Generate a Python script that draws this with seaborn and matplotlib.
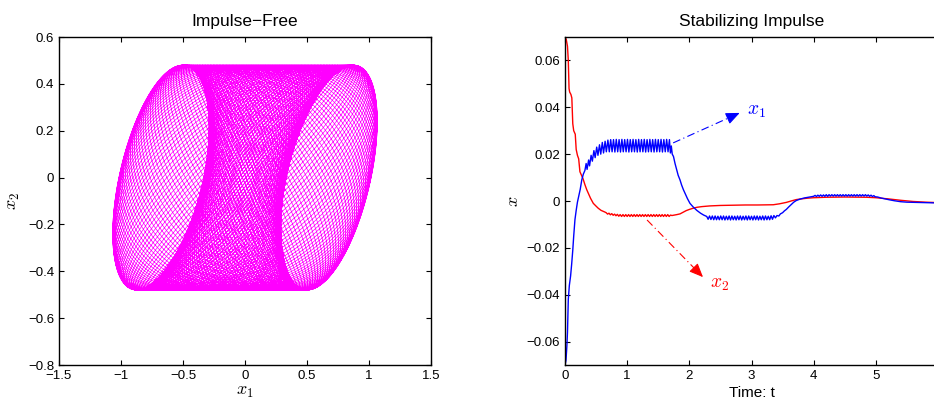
import numpy as np
import matplotlib
matplotlib.use("Agg")
import matplotlib.pyplot as plt
import seaborn as sns
from matplotlib.ticker import FixedLocator, FuncFormatter

# ---------------- left panel: quasi-periodic orbit (mode amplitudes)
orbit_loops = [120]                     # fast loops of the orbit
orbit_x1_modes = [0.33, 0.675, 0.07]    # x1 amplitudes of the three beating modes
orbit_x1_lag = [0.60]                   # phase lag of the first x1 mode
orbit_x2_amp = [0.48]                   # x2 amplitude

# ---------------- right panel: time responses under stabilizing impulses
x1_time = [0.000, 0.016, 0.030, 0.040, 0.053, 0.070, 0.090, 0.107, 0.125, 0.140, 0.160, 0.180,
           0.200, 0.220, 0.245, 0.270, 0.295, 0.320,
           0.340, 0.355, 0.380, 0.395, 0.420, 0.440, 0.465, 0.485, 0.510, 0.530, 0.555, 0.575,
           0.600, 0.620, 0.645, 0.665,
           0.690, 0.7125, 0.735, 0.7575, 0.780, 0.8025, 0.825, 0.8475, 0.870, 0.8925, 0.915, 0.9375,
           0.960, 0.9825, 1.005, 1.0275, 1.050, 1.0725, 1.095, 1.1175, 1.140, 1.1625, 1.185, 1.2075,
           1.230, 1.2525, 1.275, 1.2975, 1.320, 1.3425, 1.365, 1.3875, 1.410, 1.4325, 1.455, 1.4775,
           1.500, 1.5225, 1.545, 1.5675, 1.590, 1.6125, 1.635, 1.6575, 1.680,
           1.695, 1.710, 1.725, 1.745, 1.770, 1.790, 1.820, 1.850, 1.876, 1.905, 1.930, 1.970, 2.010,
           2.060, 2.120, 2.180, 2.230, 2.280,
           2.3025, 2.325, 2.3475, 2.370, 2.3925, 2.415, 2.4375, 2.460, 2.4825, 2.505, 2.5275, 2.550,
           2.5725, 2.595, 2.6175, 2.640, 2.6625, 2.685, 2.7075, 2.730, 2.7525, 2.775, 2.7975, 2.820,
           2.8425, 2.865, 2.8875, 2.910, 2.9325, 2.955, 2.9775, 3.000, 3.0225, 3.045, 3.0675, 3.090,
           3.1125, 3.135, 3.1575, 3.180, 3.2025, 3.225, 3.2475, 3.270, 3.2925, 3.315, 3.3375, 3.360,
           3.385, 3.410, 3.440, 3.465, 3.500, 3.530, 3.560, 3.600, 3.640, 3.680, 3.720, 3.780, 3.850,
           3.940, 4.000,
           4.0225, 4.045, 4.0675, 4.090, 4.1125, 4.135, 4.1575, 4.180, 4.2025, 4.225, 4.2475, 4.270,
           4.2925, 4.315, 4.3375, 4.360, 4.3825, 4.405, 4.4275, 4.450, 4.4725, 4.495, 4.5175, 4.540,
           4.5625, 4.585, 4.6075, 4.630, 4.6525, 4.675, 4.6975, 4.720, 4.7425, 4.765, 4.7875, 4.810,
           4.8325, 4.855, 4.8775, 4.900, 4.9225, 4.945, 4.9675, 4.990,
           5.030, 5.080, 5.150, 5.220, 5.300, 5.400, 5.500, 5.650, 5.800, 5.950, 6.000]
x1_value = [-0.0700, -0.0680, -0.0620, -0.0560, -0.0420, -0.0360, -0.0320, -0.0270, -0.0210,
            -0.0150, -0.0080, -0.0040, -0.0005, 0.0020, 0.0050, 0.0090, 0.0115, 0.0130,
            0.0160, 0.0135, 0.0175, 0.0150, 0.0195, 0.0170, 0.0215, 0.0185, 0.0230, 0.0195, 0.0240,
            0.0200, 0.0250, 0.0205, 0.0255, 0.0210,
            0.0260, 0.0210, 0.0262, 0.0210, 0.0262, 0.0209, 0.0263, 0.0210, 0.0262, 0.0209, 0.0263,
            0.0210, 0.0262, 0.0210, 0.0263, 0.0209, 0.0262, 0.0210, 0.0263, 0.0210, 0.0262, 0.0209,
            0.0263, 0.0210, 0.0262, 0.0210, 0.0263, 0.0209, 0.0262, 0.0210, 0.0263, 0.0210, 0.0262,
            0.0209, 0.0263, 0.0210, 0.0262, 0.0210, 0.0263, 0.0209, 0.0262, 0.0210, 0.0263, 0.0210,
            0.0262,
            0.0205, 0.0235, 0.0200, 0.0190, 0.0160, 0.0140, 0.0110, 0.0090, 0.0068, 0.0048, 0.0033,
            0.0010, -0.0010, -0.0025, -0.0040, -0.0052, -0.0060, -0.0066,
            -0.0078, -0.0064, -0.0079, -0.0064, -0.0080, -0.0064, -0.0080, -0.0065, -0.0080, -0.0064,
            -0.0080, -0.0064, -0.0081, -0.0065, -0.0080, -0.0064, -0.0081, -0.0064, -0.0080, -0.0065,
            -0.0081, -0.0064, -0.0080, -0.0064, -0.0081, -0.0065, -0.0080, -0.0064, -0.0081, -0.0064,
            -0.0080, -0.0065, -0.0081, -0.0064, -0.0080, -0.0064, -0.0081, -0.0065, -0.0080, -0.0064,
            -0.0081, -0.0064, -0.0080, -0.0065, -0.0080, -0.0063, -0.0078, -0.0062,
            -0.0072, -0.0062, -0.0064, -0.0055, -0.0050, -0.0042, -0.0036, -0.0025, -0.0015, -0.0005,
            0.0002, 0.0008, 0.0013, 0.0017, 0.0020,
            0.0024, 0.0019, 0.0025, 0.0020, 0.0026, 0.0020, 0.0026, 0.0020, 0.0027, 0.0020, 0.0027,
            0.0021, 0.0027, 0.0021, 0.0027, 0.0021, 0.0027, 0.0021, 0.0027, 0.0021, 0.0027, 0.0021,
            0.0027, 0.0021, 0.0027, 0.0021, 0.0027, 0.0021, 0.0027, 0.0021, 0.0027, 0.0021, 0.0027,
            0.0021, 0.0027, 0.0021, 0.0027, 0.0021, 0.0026, 0.0020, 0.0025, 0.0019, 0.0023, 0.0018,
            0.0017, 0.0013, 0.0009, 0.0005, 0.0001, -0.0003, -0.0005, -0.0006, -0.0007, -0.0008,
            -0.0008]

x2_time = [0.000, 0.020, 0.040, 0.053, 0.065, 0.075, 0.095, 0.110, 0.125, 0.140, 0.165, 0.180,
           0.200, 0.220, 0.240, 0.265, 0.290, 0.320, 0.350, 0.375, 0.410, 0.455, 0.500, 0.535,
           0.580, 0.640,
           0.6625, 0.685, 0.7075, 0.730, 0.7525, 0.775, 0.7975, 0.820, 0.8425, 0.865, 0.8875, 0.910,
           0.9325, 0.955, 0.9775, 1.000, 1.0225, 1.045, 1.0675, 1.090, 1.1125, 1.135, 1.1575, 1.180,
           1.2025, 1.225, 1.2475, 1.270, 1.2925, 1.315, 1.3375, 1.360, 1.3825, 1.405, 1.4275, 1.450,
           1.4725, 1.495, 1.5175, 1.540, 1.5625, 1.585, 1.6075, 1.630, 1.6525, 1.675, 1.6975,
           1.720, 1.760, 1.800, 1.850, 1.900, 1.950, 2.000, 2.060, 2.120, 2.200, 2.330, 2.500, 2.700,
           2.900, 3.100, 3.350, 3.450, 3.560, 3.650, 3.720, 3.800, 3.900, 4.000, 4.200, 4.500, 4.850,
           5.000, 5.200, 5.400, 5.600, 5.800, 6.000]
x2_value = [0.0700, 0.0690, 0.0660, 0.0600, 0.0480, 0.0465, 0.0455, 0.0440, 0.0330, 0.0300,
            0.0285, 0.0220, 0.0195, 0.0180, 0.0125, 0.0110, 0.0095, 0.0070, 0.0048, 0.0033,
            0.0012, -0.0010, -0.0022, -0.0031, -0.0040, -0.0047,
            -0.0050, -0.0056, -0.0052, -0.0059, -0.0054, -0.0061, -0.0056, -0.0063, -0.0057, -0.0065,
            -0.0058, -0.0066, -0.0058, -0.0066, -0.0058, -0.0066, -0.0058, -0.0066, -0.0058, -0.0066,
            -0.0058, -0.0066, -0.0058, -0.0066, -0.0058, -0.0066, -0.0058, -0.0066, -0.0058, -0.0066,
            -0.0058, -0.0066, -0.0058, -0.0066, -0.0058, -0.0066, -0.0058, -0.0066, -0.0058, -0.0066,
            -0.0058, -0.0066, -0.0058, -0.0066, -0.0058, -0.0066, -0.0060,
            -0.0062, -0.0060, -0.0058, -0.0055, -0.0048, -0.0041, -0.0036, -0.0031, -0.0027, -0.0024,
            -0.0021, -0.0019, -0.0018, -0.0017, -0.0017, -0.0016, -0.0012, -0.0006, 0.0001, 0.0006,
            0.0009, 0.0012, 0.0014, 0.0016, 0.0017, 0.0016, 0.0014, 0.0009, 0.0003, -0.0002, -0.0005,
            -0.0007]

left_xticks = [-1.5, -1.0, -0.5, 0.0, 0.5, 1.0, 1.5]
left_yticks = [-0.8, -0.6, -0.4, -0.2, 0.0, 0.2, 0.4, 0.6]
right_xticks = [0, 1, 2, 3, 4, 5]
right_yticks = [-0.06, -0.04, -0.02, 0.0, 0.02, 0.04, 0.06]

# ---------------- style
sns.set_theme(style="ticks")
plt.rcParams["font.family"] = ["Liberation Sans", "DejaVu Sans"]
plt.rcParams.update({
    "mathtext.fontset": "cm",
    "xtick.direction": "in", "ytick.direction": "in",
    "xtick.top": True, "ytick.right": True,
    "xtick.major.size": 3.5, "ytick.major.size": 3.5,
    "xtick.major.width": 0.8, "ytick.major.width": 0.8,
    "xtick.color": "black", "ytick.color": "black",
    "xtick.labelsize": 9.5, "ytick.labelsize": 9.5,
    "axes.edgecolor": "black", "axes.linewidth": 1.0,
    "text.color": "black", "axes.labelcolor": "black",
})


def matlab_fmt(v, pos):
    s = "%g" % round(v, 6)
    return s.replace("-", "\u2212")


fig = plt.figure(figsize=(9.34, 4.04), dpi=100)
ax1 = fig.add_axes([59 / 934, 1 - 365 / 404, 372 / 934, 328 / 404])
ax2 = fig.add_axes([565 / 934, 1 - 365 / 404, 373 / 934, 328 / 404])

# ---- left: orbit built from three beating modes
n_loops = orbit_loops[0]
s = np.linspace(0.0, 1.0, n_loops * 150)
ph1 = 2 * np.pi * n_loops * s
ph2 = 2 * np.pi * (n_loops - 1) * s
ph3 = 2 * np.pi * (n_loops - 2) * s
orbit_x1 = (orbit_x1_modes[0] * np.cos(ph1 - orbit_x1_lag[0])
            + orbit_x1_modes[1] * np.cos(ph2) + orbit_x1_modes[2] * np.cos(ph3))
orbit_x2 = orbit_x2_amp[0] * np.sin(ph1)
sns.lineplot(x=orbit_x1, y=orbit_x2, ax=ax1, sort=False, estimator=None,
             color="#ff00ff", lw=0.5)
ax1.set_xlim(-1.5, 1.5)
ax1.set_ylim(-0.8, 0.6)
ax1.xaxis.set_major_locator(FixedLocator(left_xticks))
ax1.yaxis.set_major_locator(FixedLocator(left_yticks))
ax1.xaxis.set_major_formatter(FuncFormatter(matlab_fmt))
ax1.yaxis.set_major_formatter(FuncFormatter(matlab_fmt))
ax1.set_title("Impulse\u2212Free", fontsize=12.5, pad=8)
ax1.set_xlabel("$x_1$", fontsize=13, labelpad=1)
ax1.set_ylabel("$x_2$", fontsize=13, labelpad=4)

# ---- right: time responses
sns.lineplot(x=x2_time, y=x2_value, ax=ax2, sort=False, estimator=None, color="#ff0000", lw=1.0)
sns.lineplot(x=x1_time, y=x1_value, ax=ax2, sort=False, estimator=None, color="#0000ff", lw=1.0)
ax2.set_xlim(0, 6)
ax2.set_ylim(-0.07, 0.07)
ax2.xaxis.set_major_locator(FixedLocator(right_xticks))
ax2.yaxis.set_major_locator(FixedLocator(right_yticks))
ax2.xaxis.set_major_formatter(FuncFormatter(matlab_fmt))
ax2.yaxis.set_major_formatter(FuncFormatter(matlab_fmt))
ax2.tick_params(axis="y", right=False)
ax2.set_title("Stabilizing Impulse", fontsize=12.5, pad=8)
ax2.set_xlabel("Time: t", fontsize=11, labelpad=3)
ax2.set_ylabel("$x$", fontsize=13, labelpad=3)

# annotation arrows (dash-dot shaft + filled head)
for (tx, ty), (hx, hy), col in [((1.74, 0.0248), (2.81, 0.0376), "#0000ff"),
                                ((1.32, -0.0081), (2.22, -0.0325), "#ff0000")]:
    fx = tx + 0.84 * (hx - tx)
    fy = ty + 0.84 * (hy - ty)
    ax2.plot([tx, fx], [ty, fy], color=col, lw=0.8, ls=(0, (7, 3, 1, 3)))
    ax2.annotate("", xy=(hx, hy), xytext=(fx, fy),
                 arrowprops=dict(arrowstyle="-|>,head_length=0.7,head_width=0.3",
                                 color=col, lw=0.8, shrinkA=0, shrinkB=0))
ax2.text(2.92, 0.0382, "$x_1$", color="#0000ff", fontsize=14, ha="left", va="center")
ax2.text(2.33, -0.0358, "$x_2$", color="#ff0000", fontsize=14, ha="left", va="center")

fig.savefig("out.png", dpi=100)
